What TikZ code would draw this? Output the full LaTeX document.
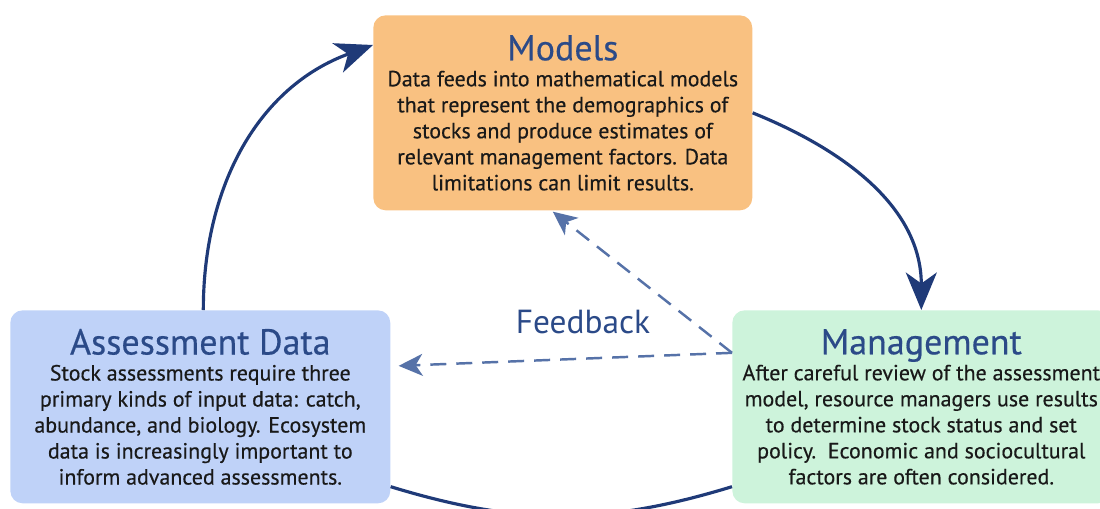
\documentclass[tikz,border=0pt]{standalone}
\usepackage{fontspec}
\setmainfont{PT Sans}
\usetikzlibrary{arrows.meta}
\definecolor{modelfill}{HTML}{F9C181}
\definecolor{assessfill}{HTML}{BFD2F8}
\definecolor{managefill}{HTML}{CDF3DB}
\definecolor{titleblue}{HTML}{2B4A88}
\definecolor{cyclenavy}{HTML}{1F3A78}
\definecolor{feedblue}{HTML}{5672A8}
\newcommand{\boxhead}[1]{{\fontsize{20.5}{22}\selectfont\color{titleblue}#1}\\[0pt]}
\begin{document}
\begin{tikzpicture}[x=0.02cm, y=0.02cm,
    box/.style={rectangle, rounded corners=7pt, anchor=north west, align=center,
      inner sep=0pt, minimum height=3.86cm, text=black!90,
      font=\fontsize{12.5}{14.8}\selectfont\addfontfeature{FakeBold=0.4}},
    cycle/.style={draw=cyclenavy, line width=1.8pt,
      -{Stealth[length=0.75cm, width=0.62cm, inset=0.22cm]}},
    feedback/.style={draw=feedblue, line width=1.4pt, dash pattern=on 0.32cm off 0.2cm,
      -{Stealth[length=0.48cm, width=0.44cm, inset=0.14cm]}}]
  \useasboundingbox (0,0) rectangle (1100,-508);
  \clip (0,0) rectangle (1100,-508);
  % the three stages
  \node[box, fill=modelfill, minimum width=7.58cm, minimum height=3.9cm] (models) at (373,-15)
    {\boxhead{Models}
     Data feeds into mathematical models\\
     that represent the demographics of\\
     stocks and produce estimates of\\
     relevant management factors. Data\\
     limitations can limit results.};
  \node[box, fill=assessfill, minimum width=7.6cm] (assess) at (10,-310)
    {\boxhead{Assessment Data}
     Stock assessments require three\\
     primary kinds of input data: catch,\\
     abundance, and biology. Ecosystem\\
     data is increasingly important to\\
     inform advanced assessments.};
  \node[box, fill=managefill, minimum width=7.56cm] (manage) at (732,-310)
    {\boxhead{Management}
     After careful review of the assessment\\
     model, resource managers use results\\
     to determine stock status and set\\
     policy.\ \ Economic and sociocultural\\
     factors are often considered.};
  \node[font=\fontsize{19}{22}\selectfont, text=titleblue] (fblabel) at (583,-322) {Feedback};
  % cycle
  \draw[cycle] ([xshift=0.06cm]assess.north) to[out=90, in=200] ([yshift=-0.6cm]models.north west);
  \draw[cycle] (models.east) to[out=-22, in=90] (manage.north);
  \draw[draw=cyclenavy, line width=1.8pt] ([yshift=0.34cm]manage.south west)
    to[out=197, in=-17] ([yshift=0.34cm]assess.south east);
  % feedback
  \coordinate (fbstart) at ([yshift=1.08cm]manage.west);
  \draw[feedback] (fbstart) -- ([xshift=-0.2cm, yshift=-0.02cm]models.south);
  \draw[feedback] (fbstart) -- ([xshift=0.16cm, yshift=0.82cm]assess.east);
\end{tikzpicture}
\end{document}
